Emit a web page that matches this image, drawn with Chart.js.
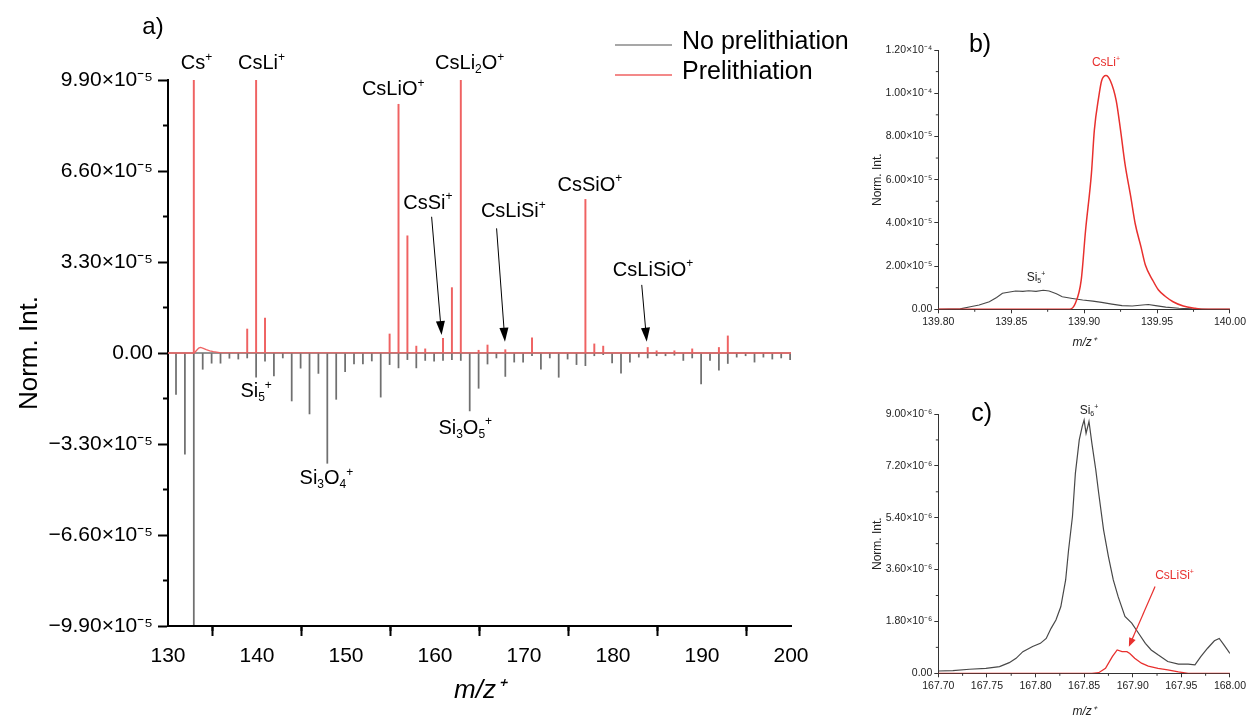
<!DOCTYPE html>
<html><head><meta charset="utf-8">
<script src="https://cdn.jsdelivr.net/npm/chart.js@4.4.1/dist/chart.umd.min.js"></script>
<style>
html,body{margin:0;padding:0;background:#fff;overflow:hidden;width:1249px;height:715px;}
canvas{position:absolute;}
#cA{left:0;top:0;} #cB{left:860px;top:0;} #cC{left:860px;top:360px;}
</style></head><body>
<canvas id="cA" width="860" height="715"></canvas>
<canvas id="cB" width="389" height="360"></canvas>
<canvas id="cC" width="389" height="360"></canvas>
<script>
// ---------------- DATA ----------------
// Panel a) — stick spectrum (Prelithiation positive, No prelithiation mirrored negative)
const mainRedMz  = [132.9, 138.9, 139.9, 140.9, 154.9, 155.9, 156.9, 157.9, 158.9, 160.9, 161.9, 162.9, 164.9, 165.9, 167.9, 170.9, 176.9, 177.9, 178.9, 183.9, 184.9, 186.9, 188.9, 191.9, 192.9];
const mainRedInt = [9.9e-5, 8.7e-6, 9.9e-5, 1.27e-5, 6.9e-6, 9.02e-5, 4.25e-5, 2.5e-6, 1.5e-6, 5.3e-6, 2.37e-5, 9.9e-5, 1.0e-6, 2.9e-6, 1.2e-6, 5.5e-6, 5.57e-5, 3.3e-6, 2.5e-6, 2.0e-6, 0.8e-6, 0.8e-6, 1.5e-6, 2.0e-6, 6.2e-6];
const mainRedBaseMz  = [130, 132.95, 133.2, 133.45, 133.65, 133.9, 134.3, 134.7, 135.1, 135.8, 200];
const mainRedBaseInt = [0, 0, 0.9e-6, 1.8e-6, 2.0e-6, 1.8e-6, 1.2e-6, 0.8e-6, 0.5e-6, 0.1e-6, 0];
const mainGreyMz  = [130.9,131.9,132.9,133.9,134.9,135.9,136.9,137.9,138.9,139.9,140.9,141.9,142.9,143.9,144.9,145.9,146.9,147.9,148.9,149.9,150.9,151.9,152.9,153.9,154.9,155.9,156.9,157.9,158.9,159.9,160.9,161.9,162.9,163.9,164.9,165.9,166.9,167.9,168.9,169.9,170.9,171.9,172.9,173.9,174.9,175.9,176.9,177.9,178.9,179.9,180.9,181.9,182.9,183.9,184.9,185.9,186.9,187.9,188.9,189.9,190.9,191.9,192.9,193.9,194.9,195.9,196.9,197.9,198.9,199.9];
const mainGreyInt = [-1.5e-5,-3.67e-5,-9.85e-5,-5.9e-6,-3.7e-6,-3.7e-6,-1.9e-6,-2.2e-6,-1.8e-6,-8.8e-6,-3.0e-6,-8.3e-6,-1.8e-6,-1.74e-5,-5.5e-6,-2.21e-5,-7.4e-6,-4.0e-5,-1.68e-5,-6.8e-6,-4.0e-6,-4.0e-6,-2.9e-6,-1.6e-5,-4.2e-6,-5.4e-6,-2.4e-6,-5.4e-6,-2.7e-6,-3.0e-6,-2.7e-6,-2.4e-6,-2.7e-6,-2.1e-5,-1.28e-5,-4.0e-6,-1.8e-6,-8.5e-6,-3.3e-6,-3.3e-6,-1.0e-6,-5.9e-6,-1.8e-6,-8.8e-6,-2.2e-6,-4.2e-6,-4.6e-6,-1.0e-6,-0.6e-6,-3.6e-6,-7.3e-6,-3.3e-6,-1.5e-6,-1.8e-6,-1.0e-6,-1.0e-6,-0.8e-6,-2.7e-6,-1.8e-6,-1.12e-5,-2.7e-6,-6.2e-6,-3.8e-6,-1.5e-6,-1.0e-6,-3.3e-6,-1.5e-6,-2.2e-6,-1.8e-6,-2.4e-6];
const mainXTicks = [130,140,150,160,170,180,190,200];
const mainXTickLabels = ['130','140','150','160','170','180','190','200'];
const mainYTicks = [-9.9e-5,-6.6e-5,-3.3e-5,0,3.3e-5,6.6e-5,9.9e-5];
const mainYTickLabels = ['−9.90×10⁻⁵','−6.60×10⁻⁵','−3.30×10⁻⁵','0.00','3.30×10⁻⁵','6.60×10⁻⁵','9.90×10⁻⁵'];

// Panel b) — CsLi+ / Si5+ region
const bGreyMz  = [139.800,139.815,139.822,139.828,139.835,139.840,139.844,139.849,139.853,139.858,139.862,139.867,139.872,139.876,139.881,139.885,139.892,139.899,139.906,139.912,139.919,139.926,139.933,139.940,139.944,139.949,139.956,139.965,139.974,139.985,140.000];
const bGreyInt = [0,0.2e-6,1.2e-6,2.0e-6,3.5e-6,5.5e-6,7.4e-6,8.0e-6,8.5e-6,8.3e-6,8.6e-6,8.3e-6,8.8e-6,8.5e-6,7.2e-6,5.8e-6,5.0e-6,4.3e-6,3.8e-6,3.2e-6,2.4e-6,1.7e-6,1.5e-6,2.0e-6,2.2e-6,1.7e-6,1.0e-6,0.5e-6,0.2e-6,0,0];
const bRedMz  = [139.800,139.890,139.894,139.898,139.901,139.905,139.907,139.910,139.912,139.915,139.918,139.922,139.925,139.928,139.932,139.935,139.939,139.942,139.947,139.951,139.956,139.961,139.968,139.976,139.983,140.000];
const bRedInt = [0,0,2.8e-6,1.35e-5,3.66e-5,6.28e-5,8.28e-5,9.82e-5,1.058e-4,1.082e-4,1.058e-4,9.66e-5,8.28e-5,6.74e-5,5.2e-5,3.97e-5,2.89e-5,2.05e-5,1.35e-5,8.9e-6,5.8e-6,3.5e-6,1.5e-6,0.5e-6,0,0];
const bXTicks = [139.80,139.85,139.90,139.95,140.00];
const bXTickLabels = ['139.80','139.85','139.90','139.95','140.00'];
const bYTicks = [0,2e-5,4e-5,6e-5,8e-5,1e-4,1.2e-4];
const bYTickLabels = ['0.00','2.00×10⁻⁵','4.00×10⁻⁵','6.00×10⁻⁵','8.00×10⁻⁵','1.00×10⁻⁴','1.20×10⁻⁴'];

// Panel c) — Si6+ / CsLiSi+ region
const cGreyMz  = [167.700,167.715,167.732,167.749,167.763,167.773,167.780,167.787,167.797,167.805,167.811,167.816,167.821,167.826,167.831,167.834,167.838,167.841,167.845,167.848,167.850,167.852,167.855,167.858,167.862,167.865,167.870,167.875,167.880,167.885,167.892,167.899,167.906,167.913,167.919,167.926,167.936,167.947,167.957,167.964,167.970,167.977,167.984,167.989,167.994,168.000];
const cGreyInt = [8e-8,9e-8,1.4e-7,1.7e-7,2.3e-7,3.7e-7,5.2e-7,7.5e-7,9.3e-7,1.04e-6,1.21e-6,1.56e-6,1.85e-6,2.31e-6,3.24e-6,4.28e-6,5.44e-6,6.94e-6,8.10e-6,8.56e-6,8.79e-6,8.33e-6,8.74e-6,7.98e-6,7.06e-6,6.25e-6,4.98e-6,4.05e-6,3.24e-6,2.66e-6,1.97e-6,1.74e-6,1.39e-6,1.04e-6,8.1e-7,6.4e-7,4.1e-7,3.2e-7,3.2e-7,2.9e-7,5.8e-7,8.7e-7,1.13e-6,1.21e-6,9.8e-7,6.9e-7];
const cRedMz  = [167.700,167.858,167.865,167.872,167.879,167.884,167.889,167.894,167.897,167.902,167.909,167.916,167.926,167.936,167.947,167.957,168.000];
const cRedInt = [0,0,2e-8,1.7e-7,5.8e-7,8.1e-7,7.5e-7,7.5e-7,6.9e-7,5.2e-7,3.5e-7,2.5e-7,1.7e-7,1.2e-7,5e-8,0,0];
const cXTicks = [167.70,167.75,167.80,167.85,167.90,167.95,168.00];
const cXTickLabels = ['167.70','167.75','167.80','167.85','167.90','167.95','168.00'];
const cYTicks = [0,1.8e-6,3.6e-6,5.4e-6,7.2e-6,9.0e-6];
const cYTickLabels = ['0.00','1.80×10⁻⁶','3.60×10⁻⁶','5.40×10⁻⁶','7.20×10⁻⁶','9.00×10⁻⁶'];

// ---------------- STYLE / HELPERS ----------------
const FF = "'Liberation Sans', Arial, Helvetica, sans-serif";
const RED_A = '#ef6262', GREY_A = '#707070';
const RED_P = '#e8302e', GREY_P = '#484848';
const pts = (xs, ys) => xs.map((x, i) => ({x, y: ys[i]}));

function drawRich(ctx, parts, cx, cy, size, color, align) {
  const base = size + 'px ' + FF, small = Math.round(size * 0.62) + 'px ' + FF;
  let w = 0;
  const segs = parts.map(p => { ctx.font = p[1] ? small : base; const tw = ctx.measureText(p[0]).width; w += tw; return {t: p[0], m: p[1], tw}; });
  let x = align === 'left' ? cx : cx - w / 2;
  ctx.fillStyle = color; ctx.textBaseline = 'alphabetic'; ctx.textAlign = 'left';
  const by = cy + size * 0.358;
  for (const s of segs) {
    ctx.font = s.m ? small : base;
    let y = by;
    if (s.m === 'sup') y = by - size * 0.42;
    if (s.m === 'sub') y = by + size * 0.2;
    ctx.fillText(s.t, x, y); x += s.tw;
  }
}
function drawArrow(ctx, x1, y1, x2, y2, color, lw, hl, hw) {
  const a = Math.atan2(y2 - y1, x2 - x1);
  ctx.save(); ctx.strokeStyle = color; ctx.fillStyle = color; ctx.lineWidth = lw;
  ctx.beginPath(); ctx.moveTo(x1, y1); ctx.lineTo(x2 - hl * 0.8 * Math.cos(a), y2 - hl * 0.8 * Math.sin(a)); ctx.stroke();
  ctx.beginPath(); ctx.moveTo(x2, y2);
  ctx.lineTo(x2 - hl * Math.cos(a) + hw * Math.sin(a), y2 - hl * Math.sin(a) - hw * Math.cos(a));
  ctx.lineTo(x2 - hl * Math.cos(a) - hw * Math.sin(a), y2 - hl * Math.sin(a) + hw * Math.cos(a));
  ctx.closePath(); ctx.fill(); ctx.restore();
}
const extras = {
  id: 'extras',
  afterDraw(chart, args, o) {
    const ctx = chart.ctx, X = chart.scales.x, Y = chart.scales.y;
    ctx.save();
    (o.minor || []).forEach(m => {
      const s = chart.scales[m.axis];
      const vals = s.ticks.map(t => t.value);
      ctx.strokeStyle = m.color; ctx.lineWidth = m.width;
      for (let i = 0; i < vals.length - 1; i++) for (let k = 1; k < m.div; k++) {
        const p = s.getPixelForValue(vals[i] + (vals[i + 1] - vals[i]) * k / m.div);
        ctx.beginPath();
        if (s.isHorizontal()) { ctx.moveTo(p, s.top); ctx.lineTo(p, s.top + m.len); }
        else { ctx.moveTo(s.right, p); ctx.lineTo(s.right - m.len, p); }
        ctx.stroke();
      }
    });
    (o.arrows || []).forEach(a => drawArrow(ctx, X.getPixelForValue(a.x1), Y.getPixelForValue(a.y1), X.getPixelForValue(a.x2), Y.getPixelForValue(a.y2), a.color, a.lw, a.hl, a.hw));
    (o.labels || []).forEach(l => drawRich(ctx, l.parts, X.getPixelForValue(l.x), Y.getPixelForValue(l.y), l.size, l.color, 'center'));
    (o.letters || []).forEach(l => drawRich(ctx, [[l.text]], l.px, l.py, l.size, '#000', 'center'));
    if (o.legend) {
      const L = o.legend;
      L.items.forEach(it => {
        ctx.strokeStyle = it.color; ctx.lineWidth = 1.3;
        ctx.beginPath(); ctx.moveTo(L.x1, it.ly); ctx.lineTo(L.x2, it.ly); ctx.stroke();
        ctx.fillStyle = '#000'; ctx.font = L.size + 'px ' + FF; ctx.textAlign = 'left'; ctx.textBaseline = 'alphabetic';
        ctx.fillText(it.text, L.tx, it.ty);
      });
    }
    ctx.restore();
  }
};
function axisCfg(o) {
  return {
    type: 'linear', min: o.min, max: o.max, offset: false,
    afterBuildTicks: s => { s.ticks = o.ticks.map(v => ({value: v})); },
    afterFit: s => { if (o.w !== undefined) s.width = o.w; if (o.h !== undefined) s.height = o.h; },
    ticks: {autoSkip: false, maxRotation: 0, minRotation: 0, font: {family: FF, size: o.fs}, color: o.tc, padding: o.pad, callback: (v, i) => o.labels[i]},
    grid: {display: true, drawOnChartArea: false, drawTicks: true, tickLength: o.tl, tickWidth: o.tw, tickColor: o.ac},
    border: {display: true, color: o.ac, width: o.bw},
    title: {display: true, text: o.title, color: o.tc, font: {family: FF, size: o.tfs, style: o.italic ? 'italic' : 'normal'}, padding: o.tpad}
  };
}
const common = {responsive: false, animation: false, events: [], devicePixelRatio: 1};

// ---------------- PANEL a ----------------
new Chart(document.getElementById('cA'), {
  type: 'bar',
  data: {datasets: [
    {type: 'line', label: 'Prelithiation', data: pts(mainRedBaseMz, mainRedBaseInt), borderColor: RED_A, borderWidth: 1.3, pointRadius: 0, order: 0},
    {label: 'Prelithiation', data: pts(mainRedMz, mainRedInt), backgroundColor: RED_A, barThickness: 1.3, grouped: false, order: 1},
    {type: 'line', label: 'No prelithiation', data: pts([130, 200], [0, 0]), borderColor: GREY_A, borderWidth: 1.3, pointRadius: 0, order: 2},
    {label: 'No prelithiation', data: pts(mainGreyMz, mainGreyInt), backgroundColor: GREY_A, barThickness: 1.1, grouped: false, order: 3}
  ]},
  options: Object.assign({}, common, {
    layout: {padding: {left: 0, top: 80, right: 69, bottom: 0}},
    plugins: {legend: {display: false}, tooltip: {enabled: false}, extras: {
      minor: [{axis: 'x', div: 2, len: 5, width: 2, color: '#000'}, {axis: 'y', div: 2, len: 5, width: 2, color: '#000'}],
      labels: [
        {parts: [['Cs'], ['+', 'sup']], x: 133.2, y: 1.055e-4, size: 20, color: '#000'},
        {parts: [['CsLi'], ['+', 'sup']], x: 140.5, y: 1.055e-4, size: 20, color: '#000'},
        {parts: [['CsLiO'], ['+', 'sup']], x: 155.3, y: 9.61e-5, size: 20, color: '#000'},
        {parts: [['CsLi'], ['2', 'sub'], ['O'], ['+', 'sup']], x: 163.9, y: 1.055e-4, size: 20, color: '#000'},
        {parts: [['CsSi'], ['+', 'sup']], x: 159.2, y: 5.49e-5, size: 20, color: '#000'},
        {parts: [['CsLiSi'], ['+', 'sup']], x: 168.8, y: 5.19e-5, size: 20, color: '#000'},
        {parts: [['CsSiO'], ['+', 'sup']], x: 177.4, y: 6.15e-5, size: 20, color: '#000'},
        {parts: [['CsLiSiO'], ['+', 'sup']], x: 184.5, y: 3.07e-5, size: 20, color: '#000'},
        {parts: [['Si'], ['5', 'sub'], ['+', 'sup']], x: 139.9, y: -1.34e-5, size: 20, color: '#000'},
        {parts: [['Si'], ['3', 'sub'], ['O'], ['4', 'sub'], ['+', 'sup']], x: 147.8, y: -4.49e-5, size: 20, color: '#000'},
        {parts: [['Si'], ['3', 'sub'], ['O'], ['5', 'sub'], ['+', 'sup']], x: 163.4, y: -2.67e-5, size: 20, color: '#000'}
      ],
      arrows: [
        {x1: 159.62, y1: 4.94e-5, x2: 160.74, y2: 6.5e-6, color: '#000', lw: 1, hl: 14, hw: 4.5},
        {x1: 166.92, y1: 4.52e-5, x2: 167.86, y2: 4.1e-6, color: '#000', lw: 1, hl: 14, hw: 4.5},
        {x1: 183.23, y1: 2.47e-5, x2: 183.79, y2: 4.1e-6, color: '#000', lw: 1, hl: 14, hw: 4.5}
      ],
      letters: [{text: 'a)', px: 153, py: 25, size: 24}],
      legend: {x1: 615, x2: 672, tx: 682, size: 25, items: [
        {text: 'No prelithiation', color: '#8a8a8a', ly: 45, ty: 49},
        {text: 'Prelithiation', color: RED_A, ly: 75, ty: 79}
      ]}
    }},
    scales: {
      x: axisCfg({min: 130, max: 200, ticks: mainXTicks, labels: mainXTickLabels, fs: 21, tc: '#000', pad: 8, tl: 10, tw: 2, ac: '#000', bw: 2, title: 'm/z⁺', tfs: 26, italic: true, tpad: {top: 0, bottom: 9}, h: 89}),
      y: axisCfg({min: -9.9e-5, max: 9.9e-5, ticks: mainYTicks, labels: mainYTickLabels, fs: 21, tc: '#000', pad: 5, tl: 10, tw: 2, ac: '#000', bw: 2, title: 'Norm. Int.', tfs: 26, italic: false, tpad: {top: 14, bottom: 0}, w: 168})
    }
  }),
  plugins: [extras]
});

// ---------------- PANEL b ----------------
new Chart(document.getElementById('cB'), {
  type: 'line',
  data: {datasets: [
    {label: 'Prelithiation', data: pts(bRedMz, bRedInt), borderColor: RED_P, borderWidth: 1.5, pointRadius: 0, cubicInterpolationMode: 'monotone', order: 0},
    {label: 'No prelithiation', data: pts(bGreyMz, bGreyInt), borderColor: GREY_P, borderWidth: 1.1, pointRadius: 0, order: 1}
  ]},
  options: Object.assign({}, common, {
    layout: {padding: {left: 0, top: 50, right: 17, bottom: 0}},
    plugins: {legend: {display: false}, tooltip: {enabled: false}, extras: {
      minor: [{axis: 'x', div: 2, len: 2.5, width: 1, color: '#333'}, {axis: 'y', div: 2, len: 2.5, width: 1, color: '#333'}],
      labels: [
        {parts: [['Si'], ['5', 'sub'], ['+', 'sup']], x: 139.867, y: 1.506e-5, size: 12, color: '#222'},
        {parts: [['CsLi'], ['+', 'sup']], x: 139.915, y: 1.144e-4, size: 12, color: RED_P}
      ],
      letters: [{text: 'b)', px: 120, py: 43, size: 25}]
    }},
    scales: {
      x: axisCfg({min: 139.8, max: 140.0, ticks: bXTicks, labels: bXTickLabels, fs: 10.5, tc: '#222', pad: 3, tl: 4, tw: 1, ac: '#333', bw: 1, title: 'm/z⁺', tfs: 12, italic: true, tpad: {top: 0, bottom: 10}, h: 50.7}),
      y: axisCfg({min: 0, max: 1.2e-4, ticks: bYTicks, labels: bYTickLabels, fs: 10.5, tc: '#222', pad: 2, tl: 4, tw: 1, ac: '#333', bw: 1, title: 'Norm. Int.', tfs: 12, italic: false, tpad: {top: 10, bottom: 0}, w: 78.3})
    }
  }),
  plugins: [extras]
});

// ---------------- PANEL c ----------------
new Chart(document.getElementById('cC'), {
  type: 'line',
  data: {datasets: [
    {label: 'Prelithiation', data: pts(cRedMz, cRedInt), borderColor: RED_P, borderWidth: 1.3, pointRadius: 0, order: 0},
    {label: 'No prelithiation', data: pts(cGreyMz, cGreyInt), borderColor: GREY_P, borderWidth: 1.2, pointRadius: 0, order: 1}
  ]},
  options: Object.assign({}, common, {
    layout: {padding: {left: 0, top: 54, right: 16.7, bottom: 0}},
    plugins: {legend: {display: false}, tooltip: {enabled: false}, extras: {
      minor: [{axis: 'x', div: 2, len: 2.5, width: 1, color: '#333'}, {axis: 'y', div: 2, len: 2.5, width: 1, color: '#333'}],
      labels: [
        {parts: [['Si'], ['6', 'sub'], ['+', 'sup']], x: 167.855, y: 9.15e-6, size: 12, color: '#222'},
        {parts: [['CsLiSi'], ['+', 'sup']], x: 167.943, y: 3.42e-6, size: 12, color: RED_P}
      ],
      arrows: [{x1: 167.923, y1: 3.01e-6, x2: 167.896, y2: 9.2e-7, color: RED_P, lw: 1.2, hl: 9, hw: 3.5}],
      letters: [{text: 'c)', px: 121.7, py: 51.7, size: 25}]
    }},
    scales: {
      x: axisCfg({min: 167.7, max: 168.0, ticks: cXTicks, labels: cXTickLabels, fs: 10.5, tc: '#222', pad: 3, tl: 4, tw: 1, ac: '#333', bw: 1, title: 'm/z⁺', tfs: 12, italic: true, tpad: {top: 0, bottom: 1}, h: 46.7}),
      y: axisCfg({min: 0, max: 9e-6, ticks: cYTicks, labels: cYTickLabels, fs: 10.5, tc: '#222', pad: 2, tl: 4, tw: 1, ac: '#333', bw: 1, title: 'Norm. Int.', tfs: 12, italic: false, tpad: {top: 10, bottom: 0}, w: 78.3})
    }
  }),
  plugins: [extras]
});
</script></body></html>
